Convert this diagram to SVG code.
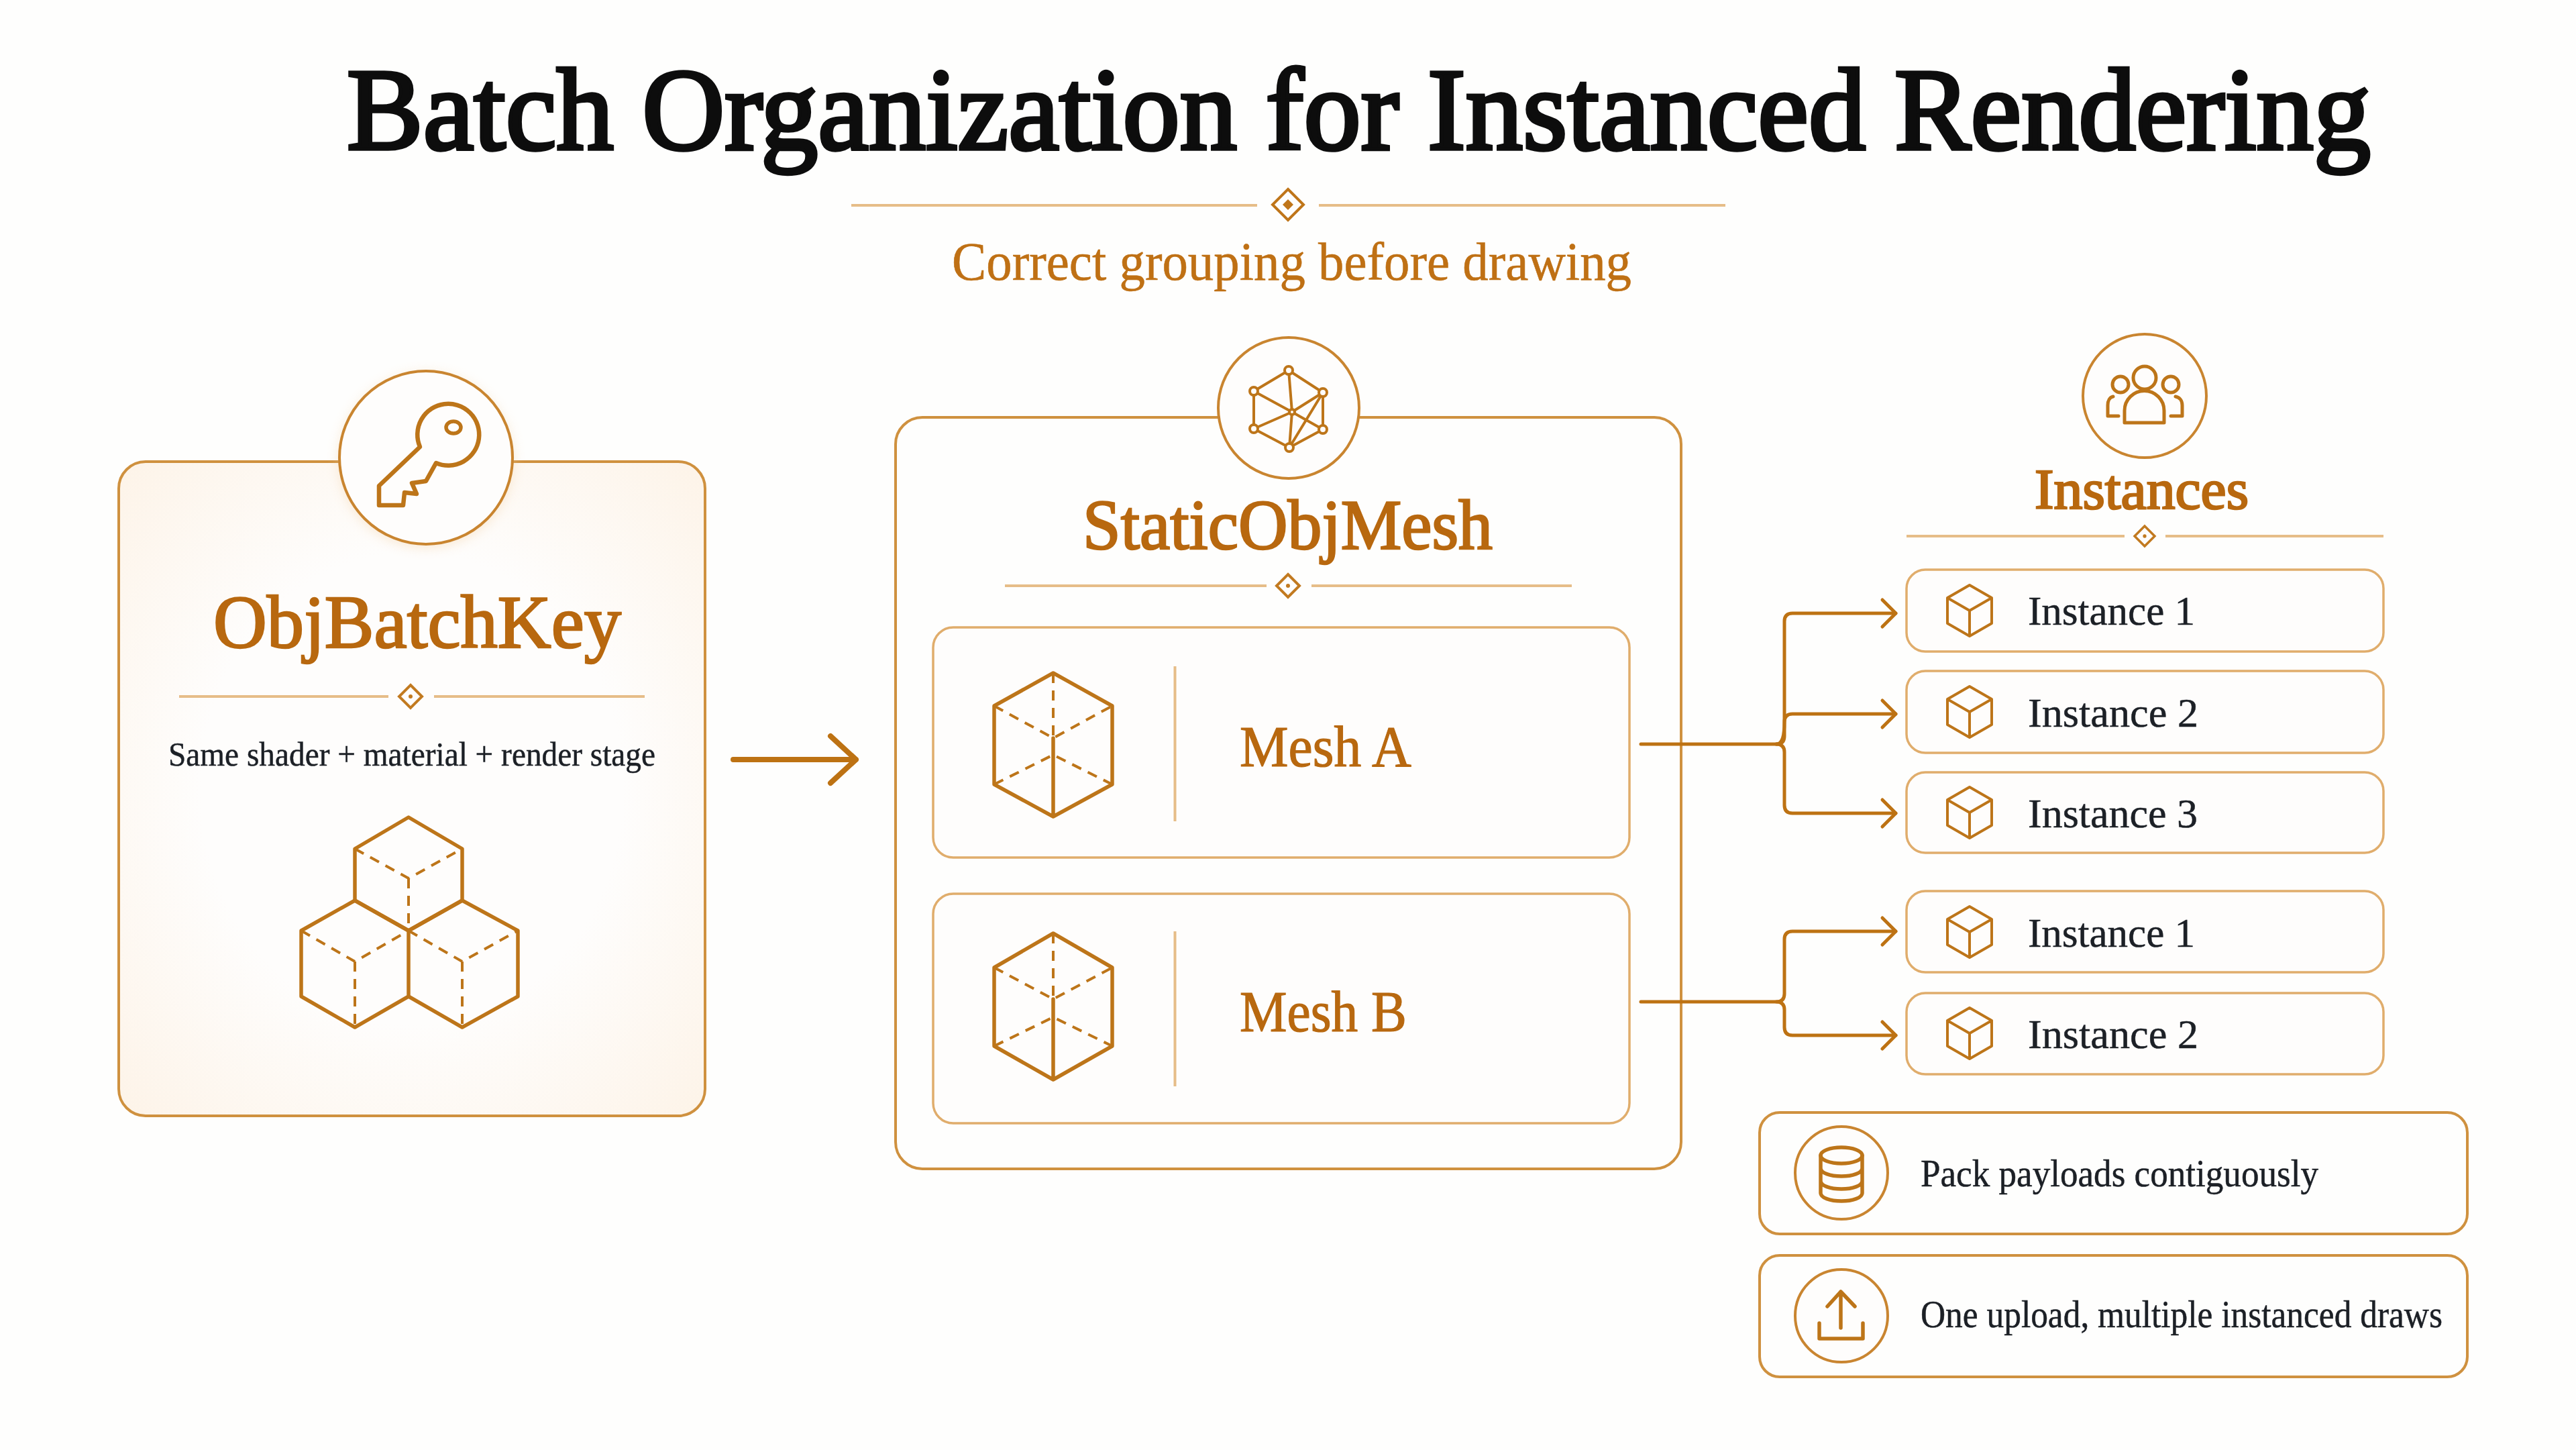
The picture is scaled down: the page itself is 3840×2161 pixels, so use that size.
<svg xmlns="http://www.w3.org/2000/svg" width="3840" height="2161" viewBox="0 0 3840 2161">
<style>
  text { font-family: "Liberation Serif", "Times New Roman", serif; }
  .title { font-size: 174px; font-weight: 400; fill: #0d0d0d; stroke: #0d0d0d; stroke-width: 5.5px; }
  .sub { font-size: 80px; fill: #bf7014; stroke: #bf7014; stroke-width: .6px; }
  .head { font-weight: 400; fill: #b8680f; stroke: #b8680f; stroke-width: 2.6px; }
  .mesh { stroke-width: 1.2px; }
  .body { fill: #1c2026; stroke: #1c2026; stroke-width: .5px; }
  .card { stroke: #cf913f; stroke-width: 4; }
  .inner { fill: #fefdfc; stroke: #e0ad6c; stroke-width: 3.5; }
  .rule { stroke: #e6bd88; stroke-width: 4; fill: none; }
  .badge { fill: #fefdfc; stroke: #c98530; stroke-width: 4; }
  .ico { fill: none; stroke: #bd7519; stroke-width: 5.5; stroke-linejoin: round; stroke-linecap: round; }
  .thin { stroke-width: 4; }
  .people { stroke-width: 5; }
  .dash { stroke-dasharray: 15 11; stroke-linecap: butt; stroke-width: 4; }
  .wire { fill: none; stroke: #bd7213; stroke-width: 5; stroke-linecap: round; stroke-linejoin: round; }
  .main { stroke-width: 8; }
</style>
<defs>
  <radialGradient id="warm" cx="50%" cy="50%" r="72%">
    <stop offset="0.5" stop-color="#fefdfc"/>
    <stop offset="1" stop-color="#fdf3e7"/>
  </radialGradient>
  <filter id="soft" x="-20%" y="-20%" width="140%" height="140%">
    <feGaussianBlur stdDeviation="9"/>
  </filter>
  <g id="ornament">
    <path d="M0 -17 L17 0 L0 17 L-17 0 Z" fill="#fefdfc" stroke="#c27a20" stroke-width="4"/>
    <circle r="3" fill="#c27a20"/>
  </g>
  <g id="box">
    <path class="ico thin" d="M0 -38 L33 -19 L33 19 L0 38 L-33 19 L-33 -19 Z M-33 -19 L0 0 L33 -19 M0 0 L0 38"/>
  </g>
  <marker id="chevron" viewBox="-24 -24 28 48" markerUnits="userSpaceOnUse" markerWidth="28" markerHeight="48" refX="0" refY="0" orient="auto">
    <path d="M-20 -20 L0 0 L-20 20" fill="none" stroke="#bd7213" stroke-width="5" stroke-linecap="round" stroke-linejoin="round"/>
  </marker>
</defs>

<rect id="page" width="3840" height="2161" fill="#fefefd"/>

<g id="heading">
  <text class="title" x="517" y="222" textLength="3017" lengthAdjust="spacingAndGlyphs">Batch Organization for Instanced Rendering</text>
  <path class="rule" d="M1269 306 H1874 M1966 306 H2572"/>
  <path d="M1920 282 L1943 305 L1920 328 L1897 305 Z" fill="none" stroke="#bf7519" stroke-width="4"/>
  <path d="M1920 297 L1928 305 L1920 313 L1912 305 Z" fill="#bf7519"/>
  <text class="sub" x="1419" y="417" textLength="1013" lengthAdjust="spacingAndGlyphs">Correct grouping before drawing</text>
</g>

<g id="obj-batch-key">
  <rect class="card" x="177" y="688" width="874" height="975" rx="40" fill="url(#warm)"/>
  <circle cx="635" cy="686" r="130" fill="#f3cfa0" opacity=".45" filter="url(#soft)"/>
  <circle class="badge" cx="635" cy="682" r="129"/>
  <path class="ico" style="stroke-width:6.5" d="M626 666 L565 724 L565 753 L601 753 L603 734 L621 736 L614 720 L635 717 L650 690 A46 46 0 1 0 626 666 Z"/>
  <ellipse class="ico" cx="676" cy="637" rx="11" ry="9"/>
  <text class="head" font-size="112" x="318" y="965" textLength="608" lengthAdjust="spacingAndGlyphs">ObjBatchKey</text>
  <path class="rule" d="M267 1038 H579 M647 1038 H961"/>
  <use href="#ornament" x="612" y="1038"/>
  <text class="body" font-size="50" x="251" y="1141" textLength="726" lengthAdjust="spacingAndGlyphs">Same shader + material + render stage</text>
  <path class="ico" d="M529 1265 L609 1218 L689 1265 L689 1342 L609 1387 L529 1342 Z"/>
  <path class="ico" d="M449 1387 L529 1342 L609 1387 L609 1485 L529 1531 L449 1485 Z"/>
  <path class="ico" d="M689 1342 L772 1387 L772 1485 L689 1531 L609 1485 M609 1387 L689 1342"/>
  <path class="ico dash" d="M529 1265 L609 1309 L689 1265 M609 1309 L609 1387 M449 1387 L529 1433 L609 1387 M529 1433 L529 1531 M609 1387 L689 1433 L772 1387 M689 1433 L689 1531"/>
</g>

<g id="static-obj-mesh">
  <rect class="card" x="1335" y="622" width="1171" height="1120" rx="40" fill="#fefefd"/>
  <circle class="badge" cx="1921" cy="608" r="105"/>
  <path class="ico thin" d="M1921 552 L1972 585 L1972 640 L1922 667 L1869 639 L1869 583 Z M1921 552 L1926 614 L1922 667 M1869 583 L1926 614 L1972 640 M1869 639 L1926 614 L1972 585 M1972 585 L1922 667"/>
  <g fill="#fefdfc" stroke="#bd7519" stroke-width="4">
    <circle cx="1921" cy="552" r="6"/><circle cx="1972" cy="585" r="6"/><circle cx="1972" cy="640" r="6"/>
    <circle cx="1922" cy="667" r="6"/><circle cx="1869" cy="639" r="6"/><circle cx="1869" cy="583" r="6"/>
    <circle cx="1926" cy="614" r="4"/>
  </g>
  <text class="head" font-size="106" x="1614" y="818" textLength="611" lengthAdjust="spacingAndGlyphs">StaticObjMesh</text>
  <path class="rule" d="M1498 873 H1888 M1955 873 H2343"/>
  <use href="#ornament" x="1920" y="873"/>
</g>

<g id="mesh-a">
  <rect class="inner" x="1391" y="935" width="1038" height="343" rx="30"/>
  <path class="ico" d="M1570 1003 L1658 1052 L1658 1169 L1570 1217 L1482 1169 L1482 1052 Z M1570 1100 L1570 1217"/>
  <path class="ico dash" d="M1570 1003 L1570 1100 M1482 1052 L1570 1100 L1658 1052 M1482 1169 L1570 1125 L1658 1169"/>
  <path class="rule" d="M1751.500 993 V1224"/>
  <text class="head mesh" font-size="86" x="1848" y="1142" textLength="256" lengthAdjust="spacingAndGlyphs">Mesh A</text>
</g>

<g id="mesh-b">
  <rect class="inner" x="1391" y="1332" width="1038" height="342" rx="30"/>
  <path class="ico" d="M1570 1391 L1658 1442 L1658 1559 L1570 1609 L1482 1559 L1482 1442 Z M1570 1489 L1570 1609"/>
  <path class="ico dash" d="M1570 1391 L1570 1489 M1482 1442 L1570 1489 L1658 1442 M1482 1559 L1570 1516 L1658 1559"/>
  <path class="rule" d="M1751.500 1388 V1619"/>
  <text class="head mesh" font-size="86" x="1848" y="1537" textLength="249" lengthAdjust="spacingAndGlyphs">Mesh B</text>
</g>

<g id="instances-header">
  <circle class="badge" cx="3197" cy="590" r="92"/>
  <circle class="ico people" cx="3197" cy="563" r="17"/>
  <circle class="ico people" cx="3161" cy="573" r="12"/>
  <circle class="ico people" cx="3236" cy="573" r="12"/>
  <path class="ico people" d="M3167 630 V612 A29.500 29.500 0 0 1 3226 612 V630 Z"/>
  <path class="ico people" d="M3150 591 C3145 592 3142 597 3142 604 V620 H3158 M3243 591 C3249 592 3253 597 3253 604 V620 H3236"/>
  <text class="head" font-size="84" x="3033" y="758" textLength="319" lengthAdjust="spacingAndGlyphs">Instances</text>
  <path class="rule" d="M2842 799 H3167 M3228 799 H3553"/>
  <use href="#ornament" transform="translate(3197 799) scale(.88)"/>
</g>

<g id="instance-a1">
  <rect class="inner" x="2842" y="849" width="711" height="122" rx="28"/>
  <use href="#box" x="2936" y="910"/>
  <text class="body" font-size="62" x="3023" y="931" textLength="249" lengthAdjust="spacingAndGlyphs">Instance 1</text>
</g>
<g id="instance-a2">
  <rect class="inner" x="2842" y="1000" width="711" height="122" rx="28"/>
  <use href="#box" x="2936" y="1061"/>
  <text class="body" font-size="62" x="3023" y="1083" textLength="254" lengthAdjust="spacingAndGlyphs">Instance 2</text>
</g>
<g id="instance-a3">
  <rect class="inner" x="2842" y="1151" width="711" height="120" rx="28"/>
  <use href="#box" x="2936" y="1211"/>
  <text class="body" font-size="62" x="3023" y="1233" textLength="253" lengthAdjust="spacingAndGlyphs">Instance 3</text>
</g>
<g id="instance-b1">
  <rect class="inner" x="2842" y="1328" width="711" height="121" rx="28"/>
  <use href="#box" x="2936" y="1389"/>
  <text class="body" font-size="62" x="3023" y="1411" textLength="249" lengthAdjust="spacingAndGlyphs">Instance 1</text>
</g>
<g id="instance-b2">
  <rect class="inner" x="2842" y="1480" width="711" height="121" rx="28"/>
  <use href="#box" x="2936" y="1540"/>
  <text class="body" font-size="62" x="3023" y="1562" textLength="254" lengthAdjust="spacingAndGlyphs">Instance 2</text>
</g>

<g id="pack-payloads">
  <rect class="card" x="2623" y="1658" width="1055" height="181" rx="30" fill="#fefefd"/>
  <circle class="badge" cx="2745" cy="1748" r="69"/>
  <ellipse class="ico" cx="2745" cy="1722" rx="31" ry="12"/>
  <path class="ico" d="M2714 1722 V1778 C2714 1785 2728 1790 2745 1790 C2762 1790 2776 1785 2776 1778 V1722 M2714 1741 C2714 1748 2728 1753 2745 1753 C2762 1753 2776 1748 2776 1741 M2714 1760 C2714 1767 2728 1772 2745 1772 C2762 1772 2776 1767 2776 1760"/>
  <text class="body" font-size="58" x="2863" y="1768" textLength="593" lengthAdjust="spacingAndGlyphs">Pack payloads contiguously</text>
</g>

<g id="one-upload">
  <rect class="card" x="2623" y="1871" width="1055" height="181" rx="30" fill="#fefefd"/>
  <circle class="badge" cx="2745" cy="1961" r="69"/>
  <path class="ico" d="M2744 1979 V1925 M2724 1947 L2744 1925 L2765 1947 M2712 1972 V1995 H2777 V1972"/>
  <text class="body" font-size="58" x="2863" y="1978" textLength="778" lengthAdjust="spacingAndGlyphs">One upload, multiple instanced draws</text>
</g>

<g id="connectors">
  <path class="wire main" d="M1093 1132 H1276 M1238 1097 L1276 1132 L1238 1167"/>
  <path class="wire" d="M2446 1109 H2648 Q2660 1109 2660 1097 V926 Q2660 914 2672 914 H2826" marker-end="url(#chevron)"/>
  <path class="wire" d="M2648 1109 Q2660 1109 2660 1076 Q2660 1064 2672 1064 H2826" marker-end="url(#chevron)"/>
  <path class="wire" d="M2648 1109 Q2660 1109 2660 1121 V1200 Q2660 1212 2672 1212 H2826" marker-end="url(#chevron)"/>
  <path class="wire" d="M2446 1493 H2648 Q2660 1493 2660 1481 V1400 Q2660 1388 2672 1388 H2826" marker-end="url(#chevron)"/>
  <path class="wire" d="M2648 1493 Q2660 1493 2660 1505 V1531 Q2660 1543 2672 1543 H2826" marker-end="url(#chevron)"/>
</g>
</svg>
